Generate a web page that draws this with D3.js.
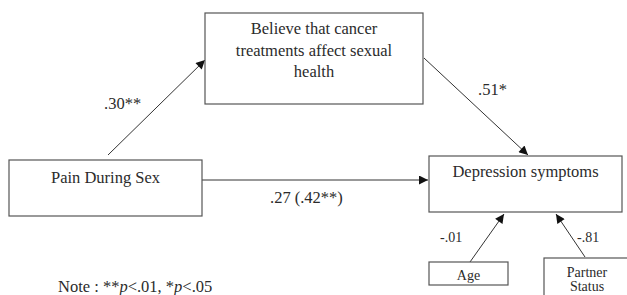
<!DOCTYPE html>
<html>
<head>
<meta charset="utf-8">
<title>Mediation model - depression symptoms</title>
<script src="https://d3js.org/d3.v7.min.js"></script>
<style>
body { margin: 0; background: #fff; }
.box { fill: #fff; stroke: #555; stroke-width: 1.2; }
.path { stroke: #333; stroke-width: 1; fill: none; }
.lbl { fill: #2b2b2b; }
</style>
</head>
<body>
<div id="chart"></div>
<script>

// node labels (one entry per line)
var nodeIds = ["pain", "believe", "dep", "age", "partner"];
var nodeLabels = [
  ["Pain During Sex"],
  ["Believe that cancer", "treatments affect sexual", "health"],
  ["Depression symptoms"],
  ["Age"],
  ["Partner", "Status"]
];

// path coefficients
var pathFrom = ["pain", "believe", "pain", "age", "partner"];
var pathTo   = ["believe", "dep", "dep", "dep", "dep"];
var pathCoef = [".30**", ".51*", ".27 (.42**)", "-.01", "-.81"];

var note = ["Note : **", "p", "<.01, *", "p", "<.05"];

var width = 627, height = 295;
var serif = "Liberation Serif";

/* layout */
var boxes = {
  pain:    {x: 9,   y: 160, w: 193, h: 56, fs: 16.5, lh: 22, ty: 183},
  believe: {x: 205, y: 13,  w: 218, h: 91, fs: 16.5, lh: 21.5, ty: 34},
  dep:     {x: 429, y: 156, w: 193, h: 56, fs: 16.5, lh: 22, ty: 177},
  age:     {x: 429, y: 262, w: 79,  h: 23, fs: 14, lh: 14, ty: 280},
  partner: {x: 544, y: 258, w: 100, h: 50, fs: 14, lh: 14, ty: 277}
};
// endpoints of each path (start, end) and label anchor
var pathGeom = [
  {x1: 108, y1: 155, x2: 205, y2: 60,  lx: 104, ly: 109, fs: 16.5},
  {x1: 424, y1: 58,  x2: 528, y2: 155, lx: 478, ly: 95,  fs: 16.5},
  {x1: 202, y1: 180, x2: 428, y2: 180, lx: 270, ly: 203, fs: 16.5},
  {x1: 470, y1: 262, x2: 504, y2: 214, lx: 440, ly: 242, fs: 14},
  {x1: 585, y1: 257, x2: 556, y2: 214, lx: 577, ly: 242, fs: 14}
];

var svg = d3.select("#chart").append("svg")
  .attr("width", width)
  .attr("height", height);

svg.append("defs").append("marker")
  .attr("id", "arrow")
  .attr("viewBox", "0 0 10 10")
  .attr("refX", 10).attr("refY", 5)
  .attr("markerWidth", 11).attr("markerHeight", 9)
  .attr("markerUnits", "userSpaceOnUse")
  .attr("orient", "auto")
  .append("path")
  .attr("d", "M0,0 L10,5 L0,10 Z")
  .attr("fill", "#111");

/* paths */
var paths = svg.append("g").selectAll("g")
  .data(pathCoef.map((c, i) => ({from: pathFrom[i], to: pathTo[i], coef: c, g: pathGeom[i]})))
  .join("g");

paths.append("line")
  .attr("class", "path")
  .attr("x1", d => d.g.x1).attr("y1", d => d.g.y1)
  .attr("x2", d => d.g.x2).attr("y2", d => d.g.y2)
  .attr("marker-end", "url(#arrow)");

paths.append("text")
  .attr("class", "lbl")
  .attr("font-family", serif)
  .attr("x", d => d.g.lx).attr("y", d => d.g.ly)
  .attr("font-size", d => d.g.fs)
  .text(d => d.coef);

/* boxes */
var nodes = svg.append("g").selectAll("g")
  .data(nodeIds.map((id, i) => ({id: id, lines: nodeLabels[i], b: boxes[id]})))
  .join("g");

nodes.append("rect")
  .attr("class", "box")
  .attr("x", d => d.b.x).attr("y", d => d.b.y)
  .attr("width", d => d.b.w).attr("height", d => d.b.h);

nodes.each(function(d) {
  var cx = d.id == "partner" ? 587 : d.b.x + d.b.w / 2;
  d3.select(this).selectAll("text")
    .data(d.lines)
    .join("text")
    .attr("class", "lbl")
    .attr("font-family", serif)
    .attr("x", cx)
    .attr("y", (t, i) => d.b.ty + i * d.b.lh)
    .attr("text-anchor", "middle")
    .attr("font-size", d.b.fs)
    .text(t => t);
});

/* note */
svg.append("text")
  .attr("class", "lbl")
  .attr("font-family", serif)
  .attr("x", 58).attr("y", 292)
  .attr("font-size", 16.5)
  .selectAll("tspan")
  .data(note)
  .join("tspan")
  .attr("font-style", t => t == "p" ? "italic" : "normal")
  .text(t => t);

</script>
</body>
</html>
